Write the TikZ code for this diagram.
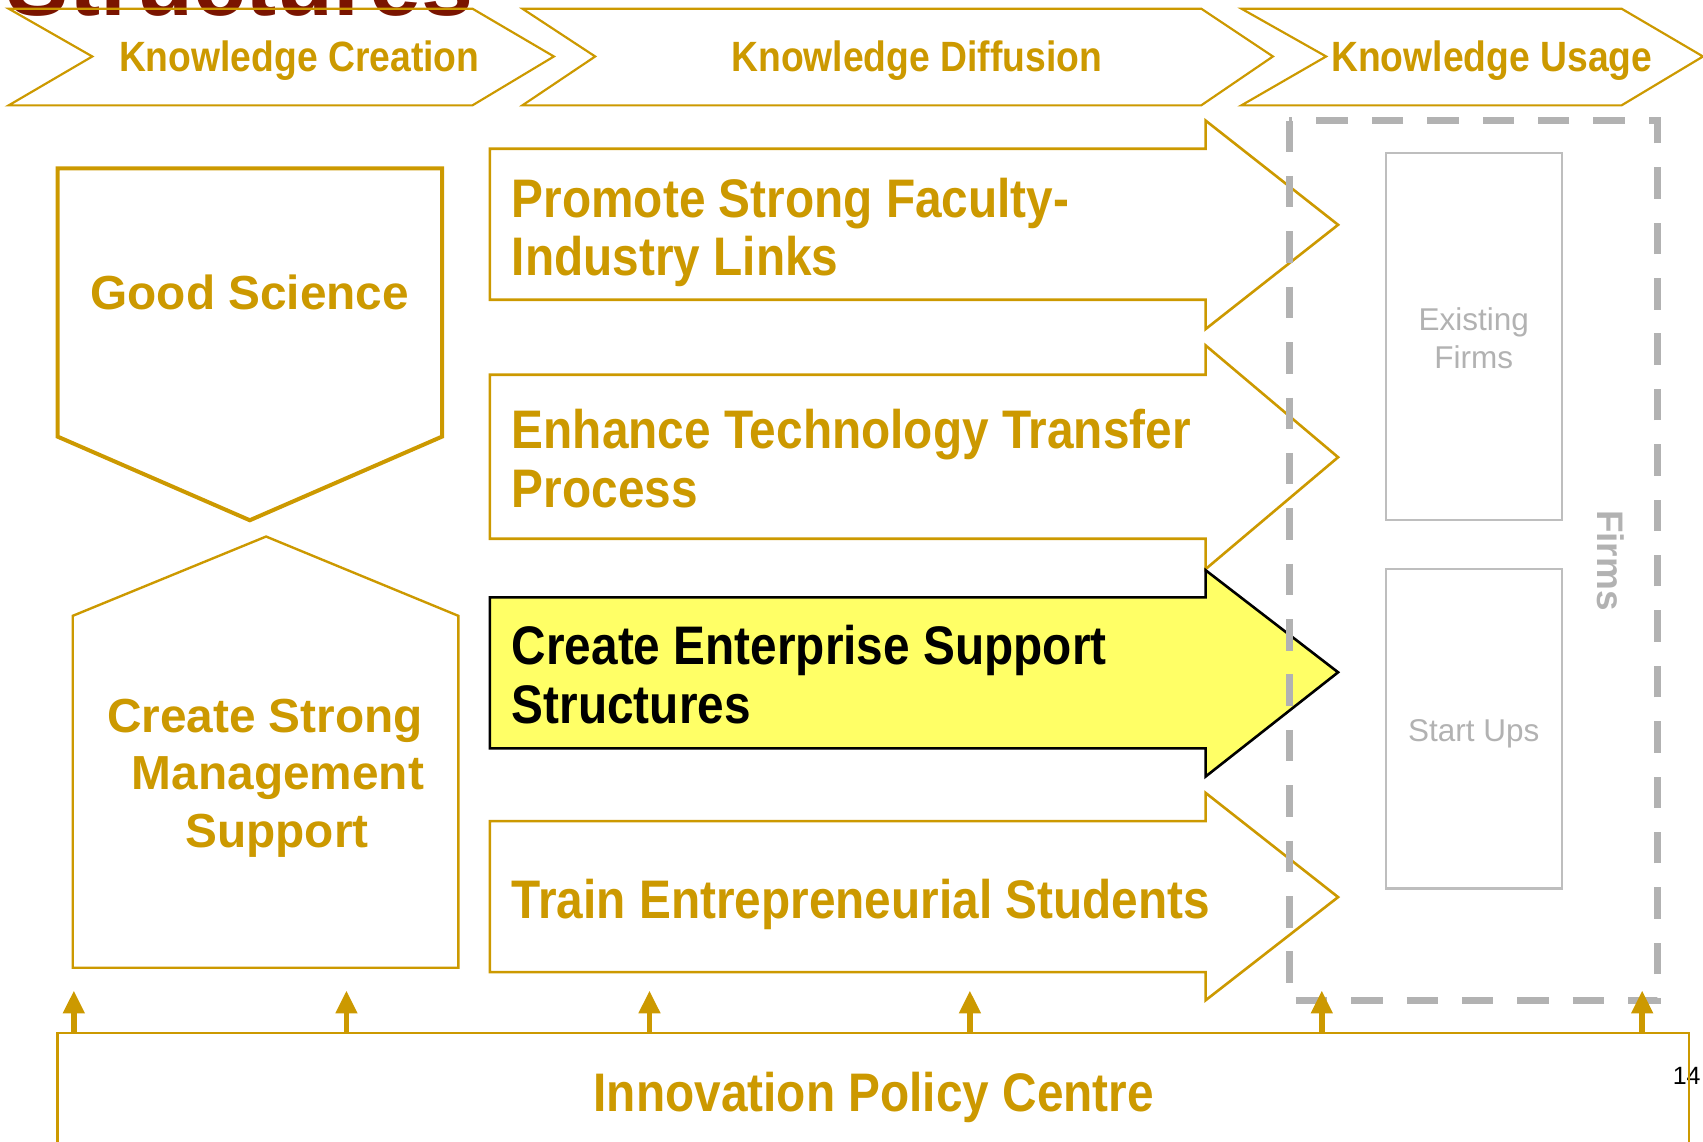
\documentclass[tikz,border=0pt]{standalone}
\usepackage{fontspec}
\setmainfont{Liberation Sans}
\newfontfamily\narrowsans[FakeStretch=0.88]{Liberation Sans}
\usetikzlibrary{arrows.meta}
\definecolor{gold}{RGB}{204,153,0}
\definecolor{hiyellow}{RGB}{255,255,102}
\definecolor{titlered}{RGB}{122,20,0}
\definecolor{dashgrey}{RGB}{178,178,178}
\definecolor{boxgrey}{RGB}{190,190,190}
\definecolor{txtgrey}{RGB}{178,178,178}
\begin{document}
\begin{tikzpicture}[x=1pt,y=-1pt,
  chev/.style={draw=gold, line width=2pt, line join=miter},
  goldshape/.style={draw=gold, line width=2.4pt, line join=miter},
  hdr/.style={anchor=base, inner sep=0pt, text=gold, font=\narrowsans\bfseries\fontsize{39}{39}\selectfont},
  arrtxt/.style={anchor=base west, inner sep=0pt, text=gold, font=\narrowsans\bfseries\fontsize{50}{54}\selectfont},
  bigtxt/.style={anchor=base, inner sep=0pt, text=gold, font=\bfseries\fontsize{44}{53}\selectfont},
  greytxt/.style={anchor=base, inner sep=0pt, text=txtgrey, font=\fontsize{29}{35}\selectfont},
  greybox/.style={draw=boxgrey, line width=2pt},
  uparrow/.style={draw=gold, line width=5pt, -{Triangle[length=21pt,width=19pt]}}
]
\useasboundingbox (0,0) rectangle (1568,1051);
\clip (0,0) rectangle (1568,1051);

% cut-off title
\node[anchor=base west, inner sep=0pt, text=titlered, font=\bfseries\fontsize{86}{86}\selectfont] (title) at (6,14) {Structures};

% header chevrons
\draw[chev] (8,8) -- (435,8) -- (510,52) -- (435,97) -- (8,97) -- (85,52) -- cycle;
\draw[chev] (481,8) -- (1106,8) -- (1172,52) -- (1106,97) -- (481,97) -- (548,52) -- cycle;
\draw[chev] (1143,8) -- (1493,8) -- (1568,52) -- (1493,97) -- (1143,97) -- (1221,52) -- cycle;
\node[hdr] (kc) at (275.5,66) {Knowledge Creation};
\node[hdr] (kd) at (844,66) {Knowledge Diffusion};
\node[hdr] (ku) at (1373.5,66) {Knowledge Usage};

% left shapes
\draw[draw=gold, line width=3.7pt, line join=miter] (53,155) -- (407,155) -- (407,402) -- (230,479) -- (53,402) -- cycle;
\node[bigtxt] (gs) at (230,285) {Good Science};
\draw[goldshape, line width=2.2pt] (67,891) -- (67,567) -- (245,494) -- (422,567) -- (422,891) -- cycle;
\node[bigtxt] (cs1) at (244,674) {Create Strong};
\node[bigtxt] (cs2) at (256,727) {Management};
\node[bigtxt] (cs3) at (255,780) {Support};

% block arrows
\draw[goldshape] (451,137) -- (1110,137) -- (1110,111) -- (1232,207) -- (1110,303) -- (1110,276) -- (451,276) -- cycle;
\node[arrtxt] (pa) at (471,200) {Promote Strong Faculty-};
\node[arrtxt] (pb) at (471,254) {Industry Links};
\draw[goldshape] (451,345) -- (1110,345) -- (1110,318) -- (1232,421) -- (1110,524) -- (1110,496) -- (451,496) -- cycle;
\node[arrtxt] (ea) at (471,413) {Enhance Technology Transfer};
\node[arrtxt] (eb) at (471,467) {Process};
\draw[fill=hiyellow, draw=black, line width=2.4pt, line join=miter] (451,550) -- (1110,550) -- (1110,525) -- (1232,619) -- (1110,715) -- (1110,689) -- (451,689) -- cycle;
\node[arrtxt, text=black] (ca) at (471,612) {Create Enterprise Support};
\node[arrtxt, text=black] (cb) at (471,666) {Structures};
\draw[goldshape] (451,756) -- (1110,756) -- (1110,730) -- (1232,826) -- (1110,921) -- (1110,895) -- (451,895) -- cycle;
\node[arrtxt] (te) at (471,846) {Train Entrepreneurial Students};

% firms
\draw[greybox] (1276,141) rectangle (1438,479);
\node[greytxt] (ex1) at (1357,304) {Existing};
\node[greytxt] (ex2) at (1357,339) {Firms};
\draw[greybox] (1276,524) rectangle (1438,818);
\node[greytxt] (su) at (1357,683) {Start Ups};
\node[inner sep=0pt, rotate=-90, text=txtgrey, font=\bfseries\fontsize{34}{34}\selectfont] (fi) at (1483,516) {Firms};
\draw[draw=dashgrey, line width=6.5pt, dash pattern=on 29pt off 22pt] (1187,111) rectangle (1526,921);

% page number
\node[inner sep=0pt, font=\fontsize{23}{23}\selectfont] (pg) at (1553,991) {14};

% bottom box
\node[draw=gold, line width=2.4pt, anchor=north west, minimum width=1502pt, minimum height=160pt, inner sep=0pt, outer sep=0pt] (ipc) at (53,951) {};
\node[anchor=base, inner sep=0pt, text=gold, font=\narrowsans\bfseries\fontsize{50}{54}\selectfont] (ipct) at (804.5,1023) {Innovation Policy Centre};

% up arrows
\foreach \i/\xx in {1/68,2/319,3/598,4/893,5/1217,6/1512}{
  \coordinate (t\i) at (\xx,912);
  \draw[uparrow] (ipc.north -| t\i) -- (t\i);
}
\end{tikzpicture}
\end{document}
